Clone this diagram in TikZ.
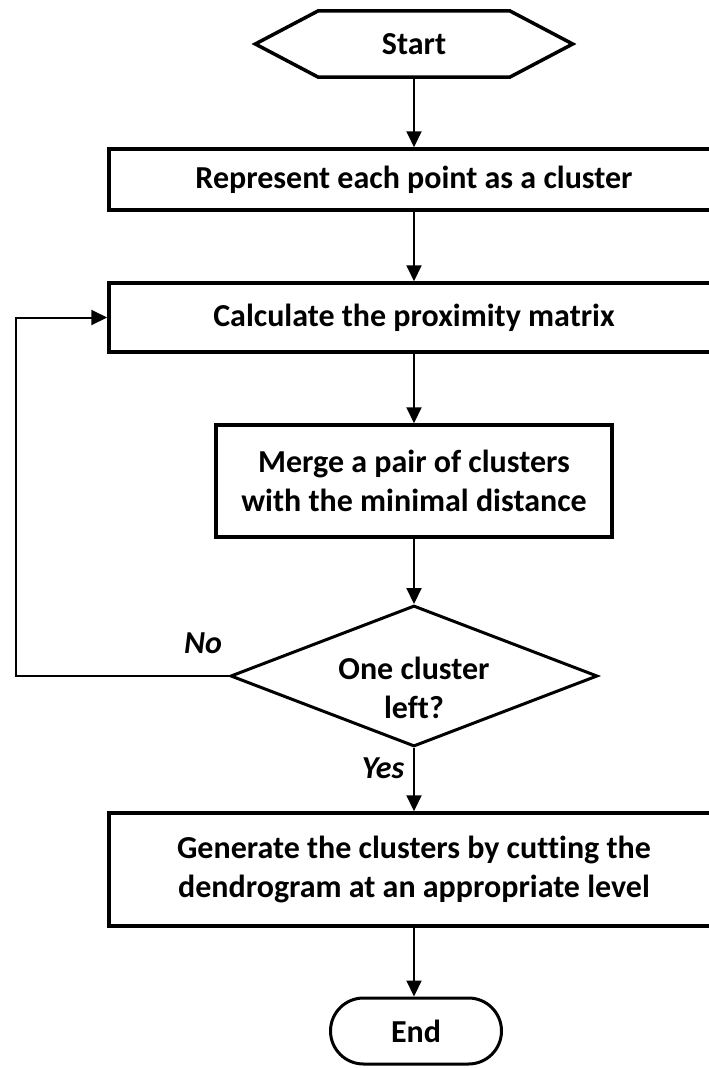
\documentclass[tikz,border=0pt]{standalone}
\usepackage{fontspec}
\setmainfont[Ligatures=NoCommon]{Carlito}
\usetikzlibrary{shapes.geometric,arrows.meta}
\begin{document}
\begin{tikzpicture}[x=1pt,y=-1pt,
  every node/.style={font=\fontsize{32}{39}\selectfont\bfseries, align=center, text=black},
  procbox/.style={draw, line width=3.5pt, minimum width=610pt, inner sep=0pt},
  conn/.style={line width=2pt, -{Triangle[length=16pt,width=15pt]}},
  lbl/.style={font=\fontsize{32}{39}\selectfont\bfseries\itshape}]
\useasboundingbox (0,0) rectangle (709,1068);
% start hexagon
\node[minimum width=317pt, minimum height=66pt, inner sep=0pt] (start) at (414,44) {Start};
\draw[line width=3.5pt, line join=miter] (start.west) -- ([xshift=63pt]start.north west) -- ([xshift=-63pt]start.north east) -- (start.east) -- ([xshift=-63pt]start.south east) -- ([xshift=63pt]start.south west) -- cycle;
% boxes
\node[procbox, minimum height=61pt] (b1) at (414,179.5) {Represent each point as a cluster};
\node[procbox, minimum height=69pt] (b2) at (414,317.5) {Calculate the proximity matrix};
\node[procbox, minimum width=396pt, minimum height=112pt] (b3) at (414,481) {Merge a pair of clusters\\with the minimal distance};
\node[draw, diamond, line width=3pt, minimum width=367pt, minimum height=141pt, inner sep=0pt] (d) at (414,676) {};
\node (dt) at (414,688) {One cluster\\left?};
\node[procbox, minimum height=113pt] (b4) at (414,869.5) {Generate the clusters by cutting the\\dendrogram at an appropriate level};
\node[draw, rounded corners=33pt, line width=3pt, minimum width=171pt, minimum height=66pt, inner sep=0pt] (e) at (416,1031) {End};
% labels
\node[lbl] (no) at (203,643) {No};
\node[lbl] (yes) at (383,768) {Yes};
% connectors
\draw[conn] (start.south) -- (b1.north);
\draw[conn] (b1.south) -- (b2.north);
\draw[conn] (b2.south) -- (b3.north);
\draw[conn] (b3.south) -- (d.north);
\draw[conn] (d.south) -- (b4.north);
\draw[conn] (b4.south) -- (b4.south |- e.north);
\coordinate (lc) at (16,676);
\draw[conn] (d.west) -- (lc) |- (b2.west);
\end{tikzpicture}
\end{document}
